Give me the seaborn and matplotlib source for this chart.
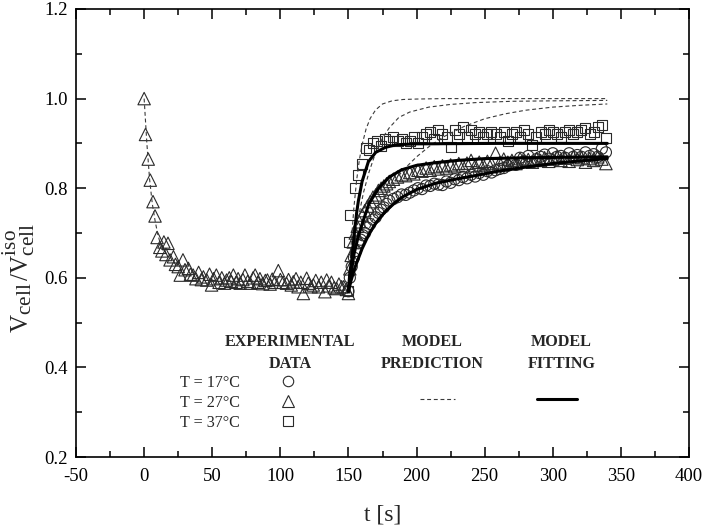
import numpy as np
import pandas as pd
import matplotlib
matplotlib.use("Agg")
import matplotlib.pyplot as plt
from matplotlib.lines import Line2D
from matplotlib.ticker import MultipleLocator
import seaborn as sns

# ---------------- data ----------------
# T = 27 C, shrinkage phase + recovery (triangles)
t27 = [0, 1, 3, 4.5, 6.5, 8, 9.5, 11.5, 13, 14.5, 16, 17.5, 19, 21.5, 23, 25, 26.5, 28.5,
       30, 32.5, 34, 36, 38, 40, 42, 43.5, 46, 48, 49.5, 51, 53, 55, 57, 59, 60.5, 62.5,
       64, 65.5, 67.5, 69, 70.5, 72.5, 74, 76, 77.8, 80, 81.5, 83.5, 85, 87, 89, 90.5,
       92.5, 94, 96, 98.5, 100, 102, 104.5, 106, 108, 109.5, 111.5, 113, 115, 116.9,
       119.3, 120.5, 122.5, 124.2, 126, 128, 130, 132.7, 134, 135.5, 137.5, 139.5,
       141.3, 143, 145, 146.5, 148.5, 150,
       151, 152, 153.5, 155, 156.5, 158, 160, 162, 164, 166, 168, 170, 172, 174, 176,
       178, 180, 183, 186, 189, 192, 195, 198, 201, 204, 207, 210, 213, 216, 219, 222,
       225, 228, 231, 234, 237, 240, 243, 246, 249, 252, 255, 258, 261, 264, 267, 270,
       273, 276, 279, 282, 285, 288, 291, 294, 297, 300, 303, 306, 309, 312, 315, 318,
       321, 324, 327, 330, 333, 336, 339]
v27 = [1.000, 0.920, 0.865, 0.818, 0.770, 0.738, 0.690, 0.668, 0.660, 0.680, 0.652, 0.677,
       0.640, 0.647, 0.630, 0.625, 0.606, 0.640, 0.618, 0.621, 0.608, 0.606, 0.598, 0.612,
       0.596, 0.602, 0.595, 0.608, 0.584, 0.598, 0.606, 0.590, 0.600, 0.588, 0.595, 0.600,
       0.592, 0.606, 0.590, 0.598, 0.588, 0.596, 0.606, 0.592, 0.588, 0.600, 0.606, 0.590,
       0.598, 0.587, 0.594, 0.595, 0.586, 0.597, 0.590, 0.616, 0.596, 0.590, 0.588, 0.596,
       0.584, 0.591, 0.598, 0.580, 0.590, 0.565, 0.599, 0.588, 0.580, 0.584, 0.594, 0.580,
       0.590, 0.569, 0.595, 0.582, 0.590, 0.578, 0.576, 0.586, 0.580, 0.580, 0.574, 0.565,
       0.620, 0.650, 0.680, 0.700, 0.715, 0.725, 0.740, 0.750, 0.760, 0.770, 0.780, 0.785,
       0.795, 0.800, 0.805, 0.810, 0.815, 0.820, 0.825, 0.830, 0.828, 0.835, 0.832, 0.840,
       0.838, 0.845, 0.840, 0.848, 0.843, 0.850, 0.845, 0.852, 0.848, 0.855, 0.850, 0.856,
       0.862, 0.850, 0.858, 0.852, 0.860, 0.855, 0.878, 0.857, 0.865, 0.858, 0.862, 0.855,
       0.866, 0.860, 0.864, 0.858, 0.866, 0.862, 0.868, 0.860, 0.865, 0.870, 0.862, 0.867,
       0.860, 0.870, 0.864, 0.868, 0.858, 0.866, 0.862, 0.870, 0.865, 0.855]

# T = 17 C recovery (circles)
t17 = [150, 151, 152.4, 154, 155.5, 157.3, 159, 160.5, 162.2, 164, 166, 168, 170, 172, 174,
       176, 178, 180, 183, 186, 189, 192, 195, 198, 201, 204, 207, 210, 213, 216, 219, 222,
       225, 228, 231, 234, 237, 240, 243, 246, 249, 252, 255, 258, 261, 264, 267, 270, 273,
       276, 279, 282, 285, 288, 291, 294, 297, 300, 303, 306, 309, 312, 315, 318, 321, 324,
       327, 330, 333, 336, 339]
v17 = [0.570, 0.600, 0.625, 0.645, 0.660, 0.677, 0.685, 0.695, 0.700, 0.712, 0.720, 0.730,
       0.735, 0.745, 0.752, 0.757, 0.765, 0.772, 0.776, 0.780, 0.786, 0.785, 0.790, 0.795,
       0.800, 0.798, 0.806, 0.805, 0.810, 0.808, 0.807, 0.815, 0.812, 0.820, 0.818, 0.825,
       0.822, 0.830, 0.826, 0.834, 0.830, 0.838, 0.835, 0.840, 0.843, 0.845, 0.850, 0.855,
       0.852, 0.868, 0.860, 0.872, 0.858, 0.865, 0.870, 0.875, 0.866, 0.878, 0.870, 0.872,
       0.868, 0.878, 0.870, 0.874, 0.870, 0.880, 0.872, 0.876, 0.870, 0.888, 0.880]

# T = 37 C recovery (squares)
t37 = [150, 150.5, 151.5, 154.5, 157, 160, 163, 165, 168, 171, 174, 177, 180, 183, 186, 189,
       192, 195, 198, 201, 204, 207, 210, 213, 216, 219, 222, 225, 228, 231, 234, 237, 240,
       243, 246, 249, 252, 255, 258, 261, 264, 267, 270, 273, 276, 279, 282, 285, 288, 291,
       294, 297, 300, 303, 306, 309, 312, 315, 318, 321, 324, 327, 330, 333, 336, 339]
v37 = [0.570, 0.680, 0.740, 0.800, 0.830, 0.855, 0.890, 0.885, 0.900, 0.905, 0.895, 0.910,
       0.905, 0.915, 0.905, 0.910, 0.900, 0.905, 0.915, 0.900, 0.915, 0.920, 0.925, 0.910,
       0.930, 0.920, 0.915, 0.893, 0.930, 0.920, 0.937, 0.915, 0.930, 0.920, 0.925, 0.915,
       0.920, 0.925, 0.920, 0.915, 0.925, 0.905, 0.920, 0.925, 0.915, 0.930, 0.920, 0.896,
       0.915, 0.925, 0.920, 0.930, 0.925, 0.920, 0.915, 0.925, 0.930, 0.920, 0.925, 0.930,
       0.935, 0.920, 0.925, 0.937, 0.940, 0.912]

# model prediction (dashed), decay phase
tp_decay = [0, 2, 4, 6, 8, 10, 12, 14]
vp_decay = [1.000, 0.900, 0.820, 0.765, 0.728, 0.697, 0.675, 0.660]
# model prediction (dashed), recovery phase, 37 / 27 / 17 C
tp_a = [150, 152, 154, 156, 158, 160, 163, 166, 170, 175, 182, 190, 200, 220, 260, 300, 340]
vp_a = [0.570, 0.677, 0.757, 0.818, 0.863, 0.897, 0.933, 0.956, 0.975, 0.988, 0.995,
        0.998, 0.999, 1.000, 1.000, 1.000, 1.000]
tp_b = [150, 152, 155, 158, 161, 165, 170, 175, 180, 187, 195, 209, 225, 243, 270, 300, 340]
vp_b = [0.570, 0.620, 0.690, 0.745, 0.790, 0.835, 0.880, 0.912, 0.935, 0.958, 0.970,
        0.981, 0.987, 0.991, 0.994, 0.995, 0.996]
tp_c = [150, 155, 160, 170, 180, 190, 200, 210, 220, 235, 250, 265, 280, 300, 320, 340]
vp_c = [0.570, 0.625, 0.670, 0.745, 0.800, 0.840, 0.870, 0.895, 0.915, 0.938, 0.955,
        0.966, 0.974, 0.981, 0.985, 0.988]

# model fitting (solid), 17 / 27 / 37 C
tf17 = [150, 152, 155, 160, 165, 170, 177, 185, 190, 200, 214, 230, 243, 260, 280, 300, 320, 340]
vf17 = [0.570, 0.595, 0.625, 0.665, 0.697, 0.722, 0.748, 0.770, 0.781, 0.797, 0.811,
        0.821, 0.828, 0.838, 0.847, 0.855, 0.861, 0.866]
tf27 = [150, 152, 154, 157, 160, 165, 172, 180, 189, 200, 214, 230, 250, 280, 310, 340]
vf27 = [0.570, 0.610, 0.652, 0.690, 0.720, 0.765, 0.800, 0.825, 0.841, 0.851, 0.857,
        0.862, 0.866, 0.868, 0.869, 0.870]
tf37 = [150, 151, 152.4, 154, 156, 157.3, 160, 164.6, 170, 177, 185, 200, 260, 340]
vf37 = [0.570, 0.612, 0.640, 0.690, 0.745, 0.772, 0.815, 0.859, 0.880, 0.891, 0.897,
        0.899, 0.900, 0.900]

temp_labels = ["T = 17\u00b0C", "T = 27\u00b0C", "T = 37\u00b0C"]
x_ticks = [-50, 0, 50, 100, 150, 200, 250, 300, 350, 400]
y_ticks = [0.2, 0.4, 0.6, 0.8, 1.0, 1.2]

# ---------------- style ----------------
sns.set_theme(style="ticks")
plt.rcParams["font.family"] = ["Liberation Serif", "DejaVu Serif"]
plt.rcParams["mathtext.fontset"] = "custom"
plt.rcParams["mathtext.rm"] = "Liberation Serif"
plt.rcParams["mathtext.it"] = "Liberation Serif:italic"
plt.rcParams["axes.linewidth"] = 1.2
try:  # sub/superscripts in the reference are relatively large
    import matplotlib._mathtext as _mt
    _mt.SHRINK_FACTOR = 0.85
except Exception:
    pass

fig = plt.figure(figsize=(7.04, 5.29), dpi=100)
ax = fig.add_axes([0.108, 0.1361, 0.8707, 0.8469])

EDGE = "#2a2a2a"
mk = dict(facecolor="none", edgecolor=EDGE, linewidth=0.8, zorder=2)
sns.scatterplot(x=t17, y=v17, marker="o", s=64, ax=ax, **mk)
sns.scatterplot(x=t27, y=v27, marker="^", s=80, ax=ax, **mk)
sns.scatterplot(x=t37, y=v37, marker="s", s=52, ax=ax, **mk)

dash_kw = dict(color="#3a3a3a", linewidth=0.8, linestyle=(0, (3.5, 2.5)),
               sort=False, estimator=None, ax=ax, zorder=3)
for tt, vv in [(tp_decay, vp_decay), (tp_a, vp_a), (tp_b, vp_b), (tp_c, vp_c)]:
    sns.lineplot(x=tt, y=vv, **dash_kw)

fit_kw = dict(color="black", linewidth=2.2, sort=False, estimator=None, ax=ax, zorder=4)
for tt, vv in [(tf17, vf17), (tf27, vf27), (tf37, vf37)]:
    sns.lineplot(x=tt, y=vv, **fit_kw)

# axes
ax.set_xlim(-50, 400)
ax.set_ylim(0.2, 1.2)
ax.set_xticks(x_ticks)
ax.set_yticks(y_ticks)
ax.set_xticklabels([str(v) for v in x_ticks])
ax.set_yticklabels([f"{v:.1f}" for v in y_ticks])
ax.xaxis.set_minor_locator(MultipleLocator(25))
ax.yaxis.set_minor_locator(MultipleLocator(0.1))
ax.tick_params(which="both", direction="in", top=True, right=True, width=1.1,
               colors="black", labelsize=13.5)
ax.tick_params(which="major", length=7)
ax.tick_params(which="minor", length=4)
ax.tick_params(axis="x", pad=8)
ax.tick_params(axis="y", pad=6)
for sp in ax.spines.values():
    sp.set_visible(True)
    sp.set_color("black")
    sp.set_linewidth(1.2)

ax.set_xlabel("t [s]", fontsize=17)
ax.set_ylabel(r"$\mathregular{V_{cell}\,/V^{iso}_{cell}}$", fontsize=18)
ax.xaxis.set_label_coords(0.5, -0.106)
ax.yaxis.set_label_coords(-0.064, 0.40)

# legend-like annotation block
fs = 11.6
title_kw = dict(transform=ax.transAxes, ha="center", va="center", fontsize=fs,
                fontweight="bold", linespacing=1.45, multialignment="center")
ax.text(0.349, 0.232, "EXPERIMENTAL\nDATA", **title_kw)
ax.text(0.581, 0.232, "MODEL\nPREDICTION", **title_kw)
ax.text(0.792, 0.232, "MODEL\nFITTING", **title_kw)

h_markers = [Line2D([], [], marker=m, linestyle="none", markersize=ms,
                    markerfacecolor="none", markeredgecolor=EDGE, markeredgewidth=0.8)
             for m, ms in [("o", 7.5), ("^", 9), ("s", 6.5)]]
leg1 = ax.legend(h_markers, temp_labels, loc="center left", bbox_to_anchor=(0.1697, 0.121),
                 frameon=False, markerfirst=False, fontsize=fs, handlelength=1.0,
                 handletextpad=2.5, labelspacing=0.25, borderpad=0, borderaxespad=0)
ax.add_artist(leg1)
h_dash = Line2D([], [], color="#3a3a3a", linewidth=0.8, linestyle=(0, (3.5, 2.5)))
leg2 = ax.legend([h_dash], [""], loc="center", bbox_to_anchor=(0.590, 0.125),
                 frameon=False, fontsize=fs, handlelength=2.2, handletextpad=0,
                 borderpad=0, borderaxespad=0)
ax.add_artist(leg2)
h_fit = Line2D([], [], color="black", linewidth=2.2)
ax.legend([h_fit], [""], loc="center", bbox_to_anchor=(0.785, 0.125),
          frameon=False, fontsize=fs, handlelength=2.45, handletextpad=0,
          borderpad=0, borderaxespad=0)

fig.savefig("out.png", dpi=100)
